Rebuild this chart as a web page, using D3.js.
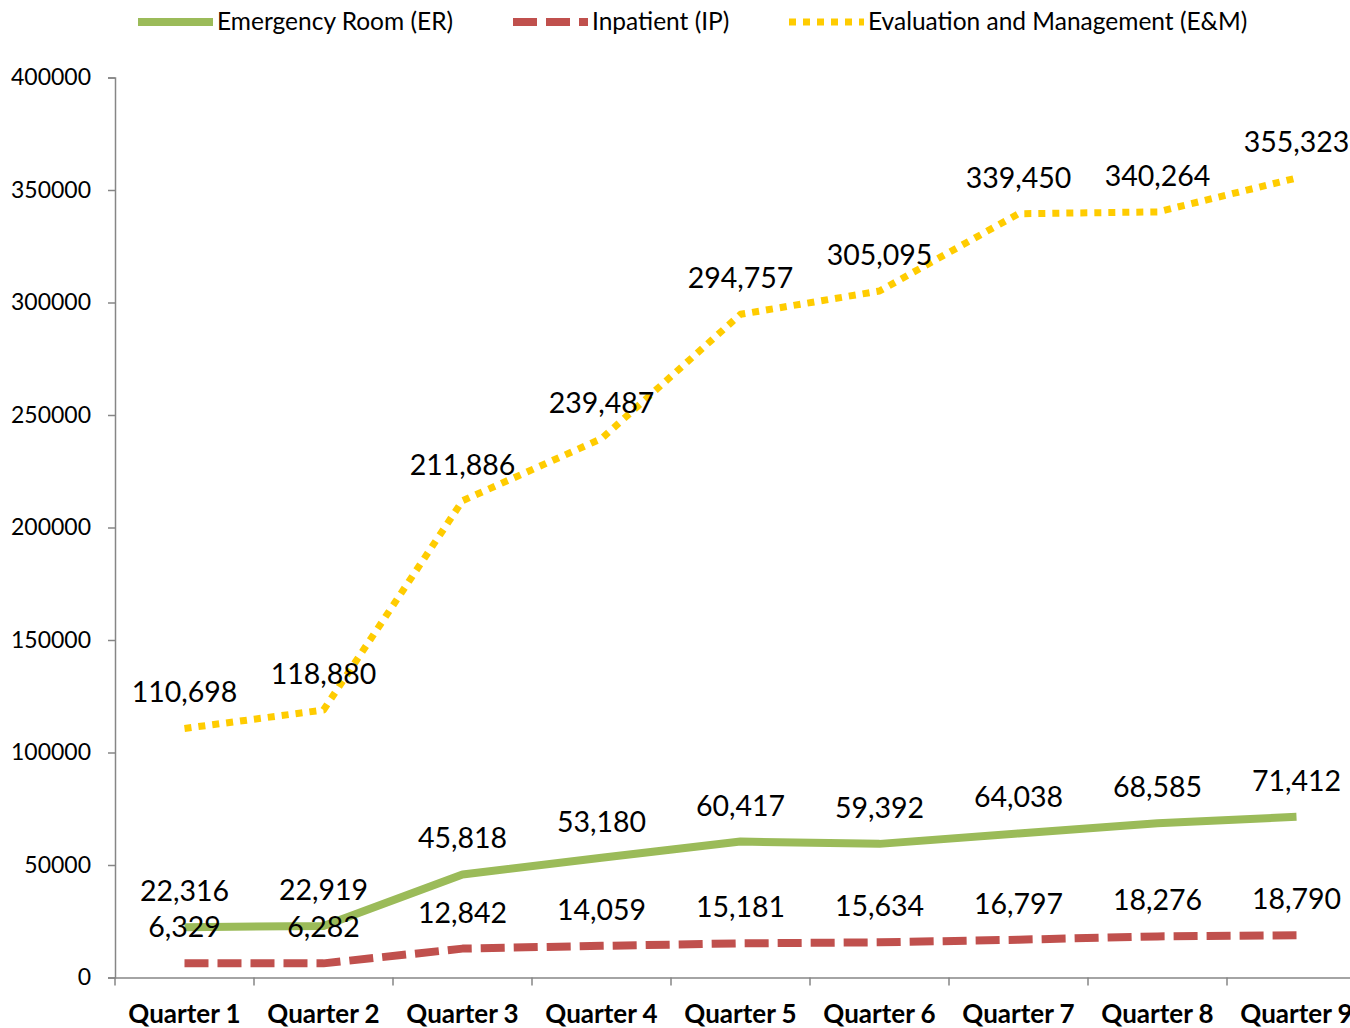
<!DOCTYPE html>
<html>
<head>
<meta charset="utf-8">
<script src="https://cdn.jsdelivr.net/npm/d3@7"></script>
<style>
  body { margin: 0; background: #fff; }
  svg { display: block; font-family: Lato, sans-serif; }
</style>
</head>
<body>
<svg id="chart" width="1350" height="1028"></svg>
<script>
// data
var quarters = ['Quarter 1', 'Quarter 2', 'Quarter 3', 'Quarter 4', 'Quarter 5', 'Quarter 6', 'Quarter 7', 'Quarter 8', 'Quarter 9']
var erValues = [22316, 22919, 45818, 53180, 60417, 59392, 64038, 68585, 71412]
var ipValues = [6329, 6282, 12842, 14059, 15181, 15634, 16797, 18276, 18790]
var emValues = [110698, 118880, 211886, 239487, 294757, 305095, 339450, 340264, 355323]
var yTicks = [0, 50000, 100000, 150000, 200000, 250000, 300000, 350000, 400000]

var series = [
    { name: 'Emergency Room (ER)', values: erValues, color: '#9bbb59', dash: null, width: 8, legendX: 138 },
    { name: 'Inpatient (IP)', values: ipValues, color: '#c0504d', dash: '24,9', width: 8, legendX: 513 },
    { name: 'Evaluation and Management (E&M)', values: emValues, color: '#ffcc00', dash: '7,7', width: 7, legendX: 789 }
]

var svg = d3.select('#chart')

var x = d3.scaleBand()
    .domain(quarters)
    .range([115, 115 + 139 * quarters.length])

var y = d3.scaleLinear()
    .domain([0, 400000])
    .range([977.5, 77.5])

// axes
var yAxis = svg.append('g')
    .attr('transform', 'translate(115,0)')
    .call(d3.axisLeft(y).tickValues(yTicks).tickSize(7).tickFormat(d3.format('d')))
yAxis.select('.domain').attr('stroke', '#868686').attr('stroke-width', 1.5)
yAxis.selectAll('.tick line').attr('stroke', '#868686').attr('stroke-width', 1.5)
yAxis.selectAll('.tick text')
    .attr('x', -24)
    .attr('font-size', 23)
    .attr('font-family', 'Lato, sans-serif')
    .attr('fill', '#000')

var xAxis = svg.append('g')
    .attr('transform', 'translate(0,977.5)')
    .call(d3.axisBottom(x).tickSize(0).tickSizeOuter(0))
xAxis.select('.domain').attr('stroke', '#868686').attr('stroke-width', 1.5)
xAxis.selectAll('.tick text')
    .attr('y', 45)
    .attr('dy', 0)
    .attr('font-size', 26)
    .attr('font-weight', 'bold')
    .attr('font-family', 'Lato, sans-serif')
    .attr('fill', '#000')

// category boundary ticks
xAxis.selectAll('.bound')
    .data(d3.range(quarters.length + 1))
    .enter().append('line')
    .attr('x1', function(i) { return x.range()[0] + i * x.step() })
    .attr('x2', function(i) { return x.range()[0] + i * x.step() })
    .attr('y1', 0)
    .attr('y2', 8)
    .attr('stroke', '#868686')
    .attr('stroke-width', 1.5)

var line = d3.line()
    .x(function(d, i) { return x(quarters[i]) + x.bandwidth() / 2 })
    .y(function(d) { return y(d) })

series.forEach(function(s) {
    svg.append('path')
        .datum(s.values)
        .attr('d', line)
        .attr('fill', 'none')
        .attr('stroke', s.color)
        .attr('stroke-width', s.width)
        .attr('stroke-dasharray', s.dash)
        .attr('stroke-linejoin', 'round')
})

// data labels above each point
series.forEach(function(s) {
    svg.append('g').selectAll('text')
        .data(s.values)
        .enter().append('text')
        .attr('x', function(d, i) { return x(quarters[i]) + x.bandwidth() / 2 })
        .attr('y', function(d) { return y(d) - 26 })
        .attr('text-anchor', 'middle')
        .attr('font-size', 28.5)
        .attr('fill', '#000')
        .text(d3.format(','))
})

// legend
var legend = svg.append('g')
series.forEach(function(s) {
    legend.append('line')
        .attr('x1', s.legendX)
        .attr('x2', s.legendX + 75)
        .attr('y1', 22)
        .attr('y2', 22)
        .attr('stroke', s.color)
        .attr('stroke-width', s.width)
        .attr('stroke-dasharray', s.dash)
    legend.append('text')
        .attr('x', s.legendX + 79)
        .attr('y', 30)
        .attr('font-size', 24.5)
        .attr('fill', '#000')
        .text(s.name)
})
</script>
</body>
</html>
